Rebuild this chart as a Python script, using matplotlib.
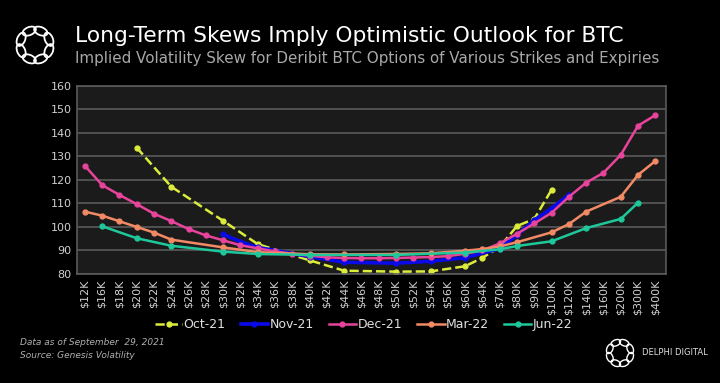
import numpy as np
import matplotlib.pyplot as plt
from matplotlib.patches import Ellipse

strikes = ["$12K", "$16K", "$18K", "$20K", "$22K", "$24K", "$26K", "$28K", "$30K", "$32K",
           "$34K", "$36K", "$38K", "$40K", "$42K", "$44K", "$46K", "$48K", "$50K", "$52K",
           "$54K", "$56K", "$60K", "$64K", "$70K", "$80K", "$90K", "$100K", "$120K", "$140K",
           "$160K", "$200K", "$300K", "$400K"]

oct21 = {"$20K": 133.7, "$24K": 117.1, "$30K": 102.6, "$34K": 92.7, "$40K": 85.8, "$44K": 81.4,
         "$50K": 81.0, "$54K": 81.1, "$60K": 83.3, "$64K": 86.9, "$70K": 91.5, "$80K": 100.4,
         "$90K": 103.4, "$100K": 115.8}
nov21 = {"$30K": 96.9, "$32K": 93.7, "$34K": 91.3, "$40K": 87.4, "$44K": 85.0, "$50K": 84.6,
         "$54K": 85.4, "$60K": 86.9, "$70K": 90.8, "$80K": 96.6, "$90K": 102.9, "$100K": 107.9,
         "$120K": 113.7}
dec21 = [126.0, 117.8, 113.6, 109.7, 105.6, 102.5, 99.1, 96.4, 94.3, 92.2,
         90.9, 89.6, 88.6, 87.8, 87.1, 86.8, 86.7, 86.7, 86.8, 87.0,
         87.2, 87.6, 88.6, 90.0, 93.0, 97.1, 101.5, 106.0, 112.8, 118.8,
         123.0, 130.6, 143.0, 147.5]
mar22 = {"$12K": 106.5, "$16K": 104.8, "$18K": 102.4, "$20K": 100.0, "$22K": 97.6, "$24K": 94.6,
         "$30K": 91.3, "$34K": 89.3, "$40K": 88.4, "$44K": 88.3, "$50K": 88.5, "$54K": 88.8,
         "$60K": 89.9, "$64K": 90.6, "$70K": 91.7, "$80K": 93.5, "$100K": 97.7, "$120K": 101.2,
         "$140K": 106.5, "$200K": 112.8, "$300K": 122.1, "$400K": 128.0}
jun22 = {"$16K": 100.3, "$20K": 95.2, "$24K": 92.0, "$30K": 89.5, "$34K": 88.5, "$40K": 88.1,
         "$50K": 88.1, "$60K": 89.1, "$70K": 90.5, "$80K": 91.9, "$100K": 93.9, "$140K": 99.5,
         "$200K": 103.4, "$300K": 110.3}


def to_xy(d):
    xs = [strikes.index(k) for k in d]
    return xs, list(d.values())


fig = plt.figure(figsize=(7.2, 3.83), dpi=100, facecolor="black")
ax = fig.add_axes([0.107, 0.2846, 0.8176, 0.4916])
ax.set_facecolor("#1b1b1b")

series = [
    ("Oct-21", to_xy(oct21), "#dcec3c", "--", 1.8),
    ("Nov-21", to_xy(nov21), "#0a0ae8", "-", 2.6),
    ("Dec-21", (list(range(len(strikes))), dec21), "#e8449c", "-", 1.8),
    ("Mar-22", to_xy(mar22), "#f28a66", "-", 1.8),
    ("Jun-22", to_xy(jun22), "#1fc89a", "-", 1.8),
]
for name, (xs, ys), c, ls, lw in series:
    ax.plot(xs, ys, color=c, ls=ls, lw=lw, marker="o", ms=3.5, label=name)

ax.set_ylim(80, 160)
ax.set_yticks(range(80, 161, 10))
ax.set_xlim(-0.45, 33.6)
ax.set_xticks(range(len(strikes)))
ax.set_xticklabels(strikes, rotation=90)
ax.tick_params(colors="#d0d0d0", labelsize=8, length=0, pad=4)
ax.grid(axis="y", color="#5a5a5a", lw=1.2)
ax.set_axisbelow(True)
for s in ax.spines.values():
    s.set_color("#5a5a5a")
    s.set_linewidth(1.2)

leg = fig.legend(loc="center", bbox_to_anchor=(0.505, 0.153), ncol=5, frameon=False,
                 fontsize=9, handlelength=2.2, handletextpad=0.1, columnspacing=1.2)
for t in leg.get_texts():
    t.set_color("#e0e0e0")

fig.text(0.104, 0.905, "Long-Term Skews Imply Optimistic Outlook for BTC", color="white",
         fontsize=15.7, va="center", ha="left")
fig.text(0.104, 0.848, "Implied Volatility Skew for Deribit BTC Options of Various Strikes and Expiries",
         color="#a8a8a8", fontsize=10.9, va="center", ha="left")

fig.text(0.028, 0.107, "Data as of September  29, 2021", color="#b0b0b0", fontsize=6.5,
         style="italic", va="center")
fig.text(0.028, 0.072, "Source: Genesis Volatility", color="#b0b0b0", fontsize=6.5,
         style="italic", va="center")
fig.text(0.892, 0.08, "DELPHI DIGITAL", color="#e0e0e0", fontsize=6, va="center")


def logo(cx, cy, r, w, h, lw):
    # ring of small loops, in pixel coords
    lax = fig.add_axes([0, 0, 1, 1], facecolor="none")
    lax.set_xlim(0, 720)
    lax.set_ylim(0, 383)
    lax.axis("off")
    for a in np.linspace(0, 2 * np.pi, 8, endpoint=False) + np.pi / 8:
        lax.add_patch(Ellipse((cx + r * np.cos(a), cy + r * np.sin(a)), w, h,
                              angle=np.degrees(a) + 90, fill=False, ec="white", lw=lw))


logo(35, 383 - 45, 15, 14, 8, 1.3)
logo(620, 383 - 353, 11, 10, 6, 1.0)

fig.savefig("out.png", dpi=100, facecolor="black")
